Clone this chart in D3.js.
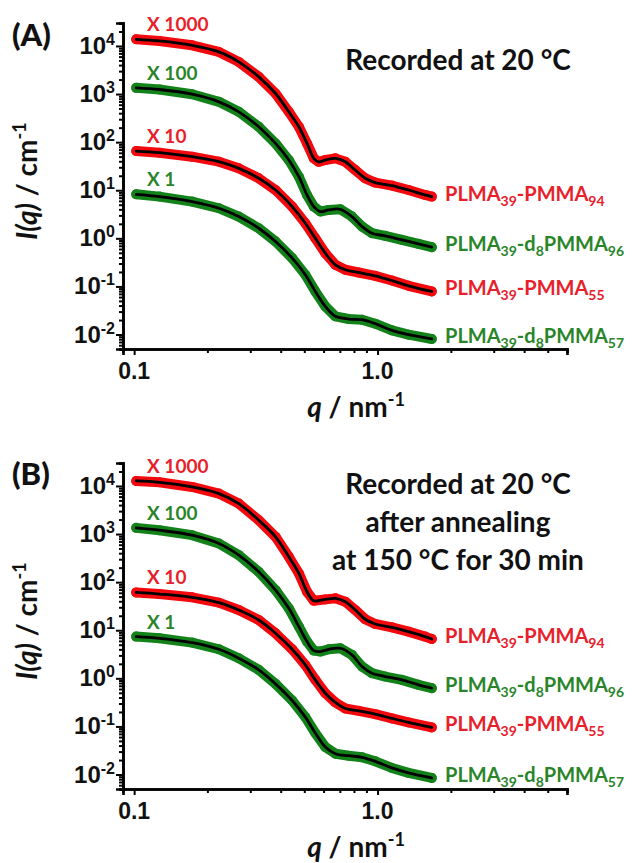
<!DOCTYPE html>
<html>
<head>
<meta charset="utf-8">
<script src="https://cdn.jsdelivr.net/npm/d3@7"></script>
<style>
  body { margin: 0; background: #fff; }
  svg { display: block; }
</style>
</head>
<body>
<div id="chart"></div>
<script>
/*** DATA ***/
// axis ranges
const qDomain = [0.09, 6];
const iDomain = [0.005, 30000];
const yDecades = [1e-2, 1e-1, 1e0, 1e1, 1e2, 1e3, 1e4];
const yExponents = ['-2', '-1', '0', '1', '2', '3', '4'];
const xMajor = [0.1, 1];
const xMajorLabels = ['0.1', '1.0'];
const xMinor = [0.2, 0.3, 0.4, 0.5, 0.6, 0.7, 0.8, 0.9, 2, 3, 4, 5, 6];

// panel A: recorded at 20 C
const qA1 = [0.102, 0.127, 0.173, 0.223, 0.269, 0.325, 0.381, 0.432, 0.475, 0.513, 0.547, 0.573, 0.610, 0.671, 0.737, 0.810, 0.890, 0.978, 1.145, 1.340, 1.568, 1.670];
const iA1 = [13750, 12700, 10300, 7510, 4660, 2275, 1026, 427, 209, 94, 46, 39, 42.5, 46, 39, 26.3, 17.7, 14.4, 12.5, 10.1, 7.98, 7.37];
const qA2 = [0.102, 0.127, 0.173, 0.223, 0.269, 0.325, 0.381, 0.432, 0.475, 0.513, 0.547, 0.582, 0.630, 0.703, 0.785, 0.863, 0.948, 1.075, 1.258, 1.472, 1.670];
const iA2 = [1345, 1242, 993, 689, 427, 209, 94, 42.5, 19.1, 7.98, 4.57, 3.60, 3.90, 4.02, 2.83, 1.76, 1.28, 1.125, 0.93, 0.768, 0.655];
const qA3 = [0.102, 0.127, 0.173, 0.223, 0.269, 0.325, 0.381, 0.446, 0.505, 0.555, 0.610, 0.671, 0.737, 0.836, 0.978, 1.145, 1.340, 1.670];
const iA3 = [65.3, 60.3, 49.8, 39.2, 28.5, 17.7, 10.1, 4.57, 2.06, 1.006, 0.491, 0.281, 0.222, 0.195, 0.166, 0.133, 0.103, 0.0787];
const qA4 = [0.102, 0.127, 0.173, 0.223, 0.269, 0.325, 0.381, 0.446, 0.505, 0.555, 0.610, 0.671, 0.761, 0.863, 0.978, 1.145, 1.340, 1.670];
const iA4 = [8.23, 7.37, 5.80, 4.22, 2.83, 1.62, 0.858, 0.387, 0.175, 0.0787, 0.0385, 0.0239, 0.0210, 0.0203, 0.0168, 0.0122, 0.00994, 0.00808];

// panel B: after annealing at 150 C
const qB1 = [0.102, 0.127, 0.173, 0.223, 0.269, 0.325, 0.381, 0.432, 0.475, 0.513, 0.547, 0.610, 0.671, 0.737, 0.810, 0.890, 0.978, 1.145, 1.340, 1.568, 1.670];
const iB1 = [12700, 11900, 9530, 6930, 4300, 1943, 875, 336, 152, 63.2, 41.1, 43.8, 46, 39.2, 26.3, 16.9, 13.5, 11.5, 9.35, 7.37, 6.59];
const qB2 = [0.102, 0.127, 0.173, 0.223, 0.269, 0.325, 0.381, 0.432, 0.475, 0.513, 0.547, 0.582, 0.630, 0.703, 0.785, 0.863, 0.948, 1.075, 1.258, 1.472, 1.670];
const iB2 = [1345, 1202, 947, 636, 364, 164, 68.5, 28.5, 11.9, 5.80, 3.77, 3.60, 4.02, 4.22, 3.07, 1.76, 1.28, 1.09, 0.93, 0.732, 0.624];
const qB3 = [0.102, 0.127, 0.173, 0.223, 0.269, 0.325, 0.381, 0.446, 0.505, 0.555, 0.610, 0.671, 0.737, 0.836, 0.978, 1.145, 1.340, 1.670];
const iB3 = [61.2, 56.6, 48.3, 37.4, 26.3, 16.3, 8.64, 4.02, 1.90, 0.93, 0.491, 0.315, 0.236, 0.211, 0.180, 0.147, 0.121, 0.0954];
const qB4 = [0.102, 0.127, 0.173, 0.223, 0.269, 0.325, 0.381, 0.446, 0.505, 0.555, 0.610, 0.671, 0.761, 0.863, 0.978, 1.145, 1.340, 1.670];
const iB4 = [7.37, 6.80, 5.53, 4.02, 2.62, 1.50, 0.768, 0.346, 0.156, 0.0727, 0.0373, 0.0271, 0.0246, 0.0228, 0.0188, 0.0137, 0.0108, 0.00849];

// labels
const multipliers = ['X 1000', 'X 100', 'X 10', 'X 1'];
const sampleNames = [
  [['PLMA', 0], ['39', 1], ['-PMMA', 0], ['94', 1]],
  [['PLMA', 0], ['39', 1], ['-d', 0], ['8', 1], ['PMMA', 0], ['96', 1]],
  [['PLMA', 0], ['39', 1], ['-PMMA', 0], ['55', 1]],
  [['PLMA', 0], ['39', 1], ['-d', 0], ['8', 1], ['PMMA', 0], ['57', 1]]
];
const titleA = ['Recorded at 20 °C'];
const titleB = ['Recorded at 20 °C', 'after annealing', 'at 150 °C for 30 min'];

/*** STYLE ***/
const RED = '#f20a0e', GREEN = '#13821a';
const RED_TXT = '#e8202a', GREEN_TXT = '#2a852a';
const seriesColors = [RED, GREEN, RED, GREEN];
const labelColors = [RED_TXT, GREEN_TXT, RED_TXT, GREEN_TXT];
const tickFont = "'Liberation Sans', Arial, sans-serif";
const textFont = "Lato, 'Open Sans', sans-serif";

/*** DRAW ***/
const width = 638, height = 863;
const svg = d3.select('#chart')
  .append('svg')
  .attr('width', width)
  .attr('height', height);

const x = d3.scaleLog().domain(qDomain).range([123, 567]);

const panels = [
  { label: '(A)', top: 23, bottom: 349, title: titleA, titleY: 70, labelY: 46,
    q: [qA1, qA2, qA3, qA4], I: [iA1, iA2, iA3, iA4] },
  { label: '(B)', top: 463, bottom: 789, title: titleB, titleY: 494, labelY: 485,
    q: [qB1, qB2, qB3, qB4], I: [iB1, iB2, iB3, iB4] }
];

function minorY() {
  const out = [];
  for (let e = -3; e <= 4; e++) {
    for (let m = 2; m <= 9; m++) {
      const v = m * Math.pow(10, e);
      if (v >= iDomain[0] && v <= iDomain[1]) out.push(v);
    }
  }
  return out;
}

function drawPanel(p) {
  const y = d3.scaleLog().domain(iDomain).range([p.bottom, p.top]);
  const g = svg.append('g');

  // series: thick coloured data band, black fit on top
  const band = d3.line().x(d => x(d[0])).y(d => y(d[1]));
  const fit = d3.line().x(d => x(d[0])).y(d => y(d[1])).curve(d3.curveCatmullRom);

  p.q.forEach((qs, k) => {
    const pts = qs.map((q, j) => [q, p.I[k][j]]);
    g.append('path')
      .attr('d', band(pts))
      .attr('fill', 'none')
      .attr('stroke', seriesColors[k])
      .attr('stroke-width', 10)
      .attr('stroke-linecap', 'round')
      .attr('stroke-linejoin', 'round');
    g.selectAll(null)
      .data(pts)
      .join('circle')
      .attr('cx', d => x(d[0]))
      .attr('cy', d => y(d[1]))
      .attr('r', 5)
      .attr('fill', seriesColors[k]);
    g.append('path')
      .attr('d', fit(pts))
      .attr('fill', 'none')
      .attr('stroke', '#000')
      .attr('stroke-width', 2.8)
      .attr('stroke-linecap', 'round');

    // multiplier above the start of the curve
    g.append('text')
      .attr('x', 147)
      .attr('y', y(pts[0][1]) - 8)
      .style('font-family', textFont)
      .style('font-weight', 'bold')
      .style('font-size', '19px')
      .style('fill', labelColors[k])
      .text(multipliers[k]);

    // sample name at the end of the curve
    const t = g.append('text')
      .attr('x', 445)
      .attr('y', y(pts[pts.length - 1][1]) + 4)
      .style('font-family', textFont)
      .style('font-weight', 'bold')
      .style('font-size', '20px')
      .style('fill', labelColors[k]);
    let down = false;
    sampleNames[k].forEach(([s, sub]) => {
      const ts = t.append('tspan').text(s);
      if (sub && !down) { ts.attr('dy', 5).style('font-size', '14px'); down = true; }
      else if (sub) { ts.style('font-size', '14px'); }
      else if (down) { ts.attr('dy', -5); down = false; }
    });
  });

  // axes
  const yMajor = d3.axisLeft(y).tickValues(yDecades).tickSize(7).tickFormat('');
  const yMin = d3.axisLeft(y).tickValues(minorY()).tickSize(4).tickFormat('');
  const xMaj = d3.axisBottom(x).tickValues(xMajor).tickSize(6).tickFormat('');
  const xMin = d3.axisBottom(x).tickValues(xMinor).tickSize(4).tickFormat('');

  const ya = g.append('g').attr('transform', 'translate(123,0)');
  ya.append('g').call(yMin);
  ya.append('g').call(yMajor);
  const xa = g.append('g').attr('transform', `translate(0,${p.bottom})`);
  xa.append('g').call(xMin);
  xa.append('g').call(xMaj);
  g.selectAll('.domain').attr('stroke', '#000').attr('stroke-width', 2.6);
  g.selectAll('.tick line').attr('stroke', '#000').attr('stroke-width', 2);

  // y tick labels 10^n
  yDecades.forEach((v, k) => {
    const t = g.append('text')
      .attr('x', 115)
      .attr('y', y(v) + 8)
      .attr('text-anchor', 'end')
      .style('font-family', tickFont)
      .style('font-weight', 'bold')
      .style('font-size', '24px')
      .style('fill', '#111');
    t.append('tspan').text('10');
    t.append('tspan').attr('dy', -9).style('font-size', '16px').text(yExponents[k]);
  });

  // x tick labels
  xMajor.forEach((v, k) => {
    g.append('text')
      .attr('x', x(v))
      .attr('y', p.bottom + 30)
      .attr('text-anchor', 'middle')
      .style('font-family', tickFont)
      .style('font-weight', 'bold')
      .style('font-size', '23px')
      .style('fill', '#111')
      .text(xMajorLabels[k]);
  });

  // axis titles
  const yt = g.append('text')
    .attr('transform', `translate(37,${(p.top + p.bottom) / 2 - 5}) rotate(-90)`)
    .attr('text-anchor', 'middle')
    .style('font-family', textFont)
    .style('font-weight', 'bold')
    .style('font-size', '28px')
    .style('fill', '#111');
  yt.append('tspan').style('font-style', 'italic').text('I(q)');
  yt.append('tspan').text(' / cm');
  yt.append('tspan').attr('dy', -11).style('font-size', '18px').text('-1');

  const xt = g.append('text')
    .attr('x', 356)
    .attr('y', p.bottom + 68)
    .attr('text-anchor', 'middle')
    .style('font-family', textFont)
    .style('font-weight', 'bold')
    .style('font-size', '28px')
    .style('fill', '#111');
  xt.append('tspan').style('font-style', 'italic').text('q');
  xt.append('tspan').text(' / nm');
  xt.append('tspan').attr('dy', -11).style('font-size', '18px').text('-1');

  // panel letter
  g.append('text')
    .attr('x', 12)
    .attr('y', p.labelY)
    .style('font-family', textFont)
    .style('font-weight', 900)
    .style('font-size', '31px')
    .style('fill', '#111')
    .text(p.label);

  // condition text
  p.title.forEach((line, k) => {
    g.append('text')
      .attr('x', 458)
      .attr('y', p.titleY + k * 38)
      .attr('text-anchor', 'middle')
      .style('font-family', textFont)
      .style('font-weight', 'bold')
      .style('font-size', '28px')
      .style('fill', '#111')
      .text(line);
  });
}

panels.forEach(drawPanel);
</script>
</body>
</html>
